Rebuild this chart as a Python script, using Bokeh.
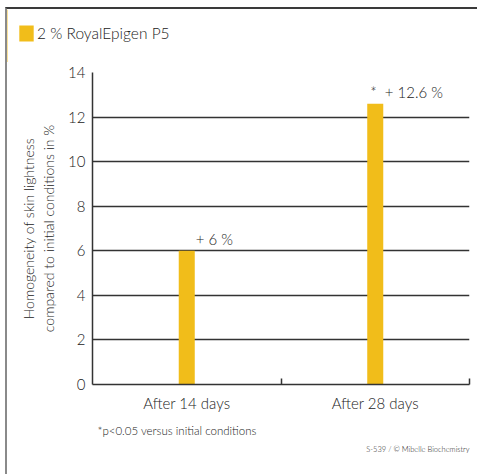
from bokeh.plotting import figure
from bokeh.models import (ColumnDataSource, FixedTicker, Legend, LegendItem, Title, Range1d, Column)
from bokeh.core.properties import value
from bokeh.embed import file_html
from bokeh.resources import INLINE

categories = ["After 14 days", "After 28 days"]
values = [6.0, 12.6]
bar_labels = ["+ 6 %", "*\u00a0 + 12.6 %"]
y_ticks = [0, 2, 4, 6, 8, 10, 12, 14]
series_name = "2 % RoyalEpigen P5"
footnote = "*p<0.05 versus initial conditions"
credit = "S-539 / © Mibelle Biochemistry"

FONT = "Lato Light"
BAR = "#F1BD1A"
DARK = "#222222"

xs = [i + 0.5 for i in range(len(categories))]
src = ColumnDataSource(dict(x=xs, top=values, label=bar_labels))

W = 470
TOP_H = 53
MAIN_H = 412

# ---- legend strip (top) ----
top = figure(width=W, height=TOP_H, x_range=Range1d(2, 3), y_range=Range1d(0, 1),
             output_backend="svg", toolbar_location=None,
             min_border_left=0, min_border_right=0, min_border_top=0, min_border_bottom=0)
top.axis.visible = False
top.grid.grid_line_color = None
top.outline_line_color = None
legend_bars = top.vbar(x="x", top="top", width=0.085, source=src, color=BAR, line_color=None)
legend = Legend(items=[LegendItem(label=series_name, renderers=[legend_bars])],
                location=(10, 19), padding=0, margin=0, spacing=0,
                glyph_width=18, glyph_height=20, label_standoff=2,
                label_text_font=FONT, label_text_font_size="15.5px", label_text_color=DARK,
                border_line_color=None, background_fill_alpha=0)
top.add_layout(legend)

# ---- main chart ----
p = figure(width=W, height=MAIN_H, x_range=(0, len(categories)), y_range=(0, 14),
           output_backend="svg", toolbar_location=None,
           min_border_left=85, min_border_right=8, min_border_top=10, min_border_bottom=90)
p.outline_line_color = None
p.background_fill_color = "white"

p.vbar(x="x", top="top", width=0.085, source=src, color=BAR, line_color=None)

p.text(x=[xs[0]], y=[values[0]], text=[bar_labels[0]], x_offset=9, y_offset=-3,
       text_font=value(FONT), text_font_size="15px", text_color=DARK,
       text_align="left", text_baseline="bottom")
p.text(x=[xs[1]], y=[values[1]], text=[bar_labels[1]], x_offset=-5, y_offset=-3,
       text_font=value(FONT), text_font_size="15px", text_color=DARK,
       text_align="left", text_baseline="bottom")

# x axis
p.xaxis.ticker = FixedTicker(ticks=xs, minor_ticks=[1, 2])
p.xaxis.major_label_overrides = {x: c for x, c in zip(xs, categories)}
p.xaxis.major_tick_line_color = None
p.xaxis.major_tick_out = 0
p.xaxis.major_tick_in = 0
p.xaxis.minor_tick_in = 6
p.xaxis.minor_tick_out = 0
p.xaxis.minor_tick_line_color = "#333333"
p.xaxis.minor_tick_line_width = 1.5
p.xaxis.axis_line_color = "#333333"
p.xaxis.axis_line_width = 1.5
p.xaxis.major_label_text_font = FONT
p.xaxis.major_label_text_font_size = "15px"
p.xaxis.major_label_text_color = DARK
p.xaxis.major_label_standoff = 9
p.xgrid.grid_line_color = None

# y axis
p.yaxis.ticker = FixedTicker(ticks=y_ticks)
p.yaxis.major_tick_line_color = None
p.yaxis.major_tick_out = 0
p.yaxis.major_tick_in = 0
p.yaxis.minor_tick_line_color = None
p.yaxis.minor_tick_out = 0
p.yaxis.axis_line_color = "#333333"
p.yaxis.axis_line_width = 1.5
p.yaxis.major_label_text_font = FONT
p.yaxis.major_label_text_font_size = "15px"
p.yaxis.major_label_text_color = DARK
p.yaxis.major_label_standoff = 7
p.yaxis.axis_label = "Homogeneity of skin lightness\ncompared to initial conditions in %"
p.yaxis.axis_label_text_font = FONT
p.yaxis.axis_label_text_font_style = "normal"
p.yaxis.axis_label_text_font_size = "14px"
p.yaxis.axis_label_text_color = DARK
p.yaxis.axis_label_standoff = 8
p.ygrid.grid_line_color = "#333333"
p.ygrid.grid_line_width = 1.3

p.add_layout(Title(text=footnote, align="left", text_font=FONT,
                   text_font_size="11.5px", text_color=DARK, text_font_style="normal",
                   standoff=15, offset=5), "below")
p.add_layout(Title(text=credit, align="right", text_font=FONT,
                   text_font_size="7.5px", text_color=DARK, text_font_style="normal",
                   standoff=-4, offset=0), "below")

layout = Column(children=[Column(children=[top]), Column(children=[p])], spacing=0,
                styles={"border-top": "2px solid #3a3a3a", "border-left": "2px solid #8a8a8a",
                        "margin-left": "5px", "margin-top": "7px"})

open("out.html", "w").write(file_html(layout, INLINE))
